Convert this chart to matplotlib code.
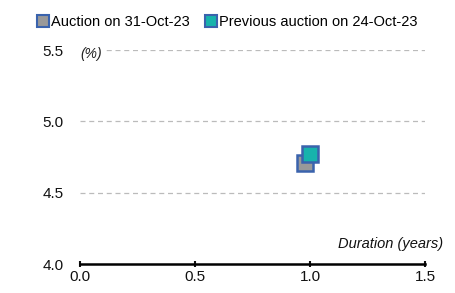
import matplotlib
matplotlib.use("Agg")
import matplotlib.pyplot as plt
from matplotlib.lines import Line2D
import matplotlib.font_manager as fm

names = {f.name for f in fm.fontManager.ttflist}
fam = "Liberation Sans Narrow" if "Liberation Sans Narrow" in names else "Liberation Sans"
plt.rcParams['font.family'] = [fam, 'DejaVu Sans']

series = ["Auction on 31-Oct-23", "Previous auction on 24-Oct-23"]
duration = [0.98, 1.0]
yields = [4.71, 4.77]
face_colors = ["#999999", "#17b3ac"]
edge_color = "#3a63ad"

xticks = [0.0, 0.5, 1.0, 1.5]
yticks = [4.0, 4.5, 5.0, 5.5]

fig = plt.figure(figsize=(4.55, 2.93), dpi=100)
ax = fig.add_axes([80/455, 1-264/293, 345/455, 214/293])

for x, y, fc, lab in zip(duration, yields, face_colors, series):
    ax.plot([x], [y], marker='s', markersize=11, markerfacecolor=fc,
            markeredgecolor=edge_color, markeredgewidth=1.8, linestyle='none',
            label=lab, clip_on=False)

ax.set_xlim(0, 1.5)
ax.set_ylim(4.0, 5.5)
ax.set_xticks(xticks)
ax.set_yticks(yticks)
ax.set_xticklabels([f"{v:.1f}" for v in xticks], fontsize=11)
ax.set_yticklabels([f"{v:.1f}" for v in yticks], fontsize=11)
for y in yticks[1:]:
    ax.axhline(y, color="#bbbbbb", linestyle=(0, (4, 3)), linewidth=0.9, zorder=0)

for s in ['top', 'right', 'left']:
    ax.spines[s].set_visible(False)
ax.spines['bottom'].set_linewidth(1.8)
ax.tick_params(axis='y', length=0, pad=12, colors='#111111')
ax.tick_params(axis='x', direction='inout', length=4, width=1.5, pad=2, colors='#111111')

ax.text(0.0, 5.475, "(%)", fontsize=10, style='italic', va='center', ha='left',
        color='#222222', zorder=5,
        bbox=dict(facecolor='white', edgecolor='none', pad=3))
fig.text(443/455, 1-244/293, "Duration (years)", fontsize=10.5, style='italic',
         ha='right', va='center', color='#111111')

handles = [Line2D([], [], marker='s', markersize=8, markerfacecolor=fc,
                  markeredgecolor=edge_color, markeredgewidth=1.5, linestyle='none')
           for fc in face_colors]
fig.legend(handles, series, loc='center left', bbox_to_anchor=(36/455, 1-22/293),
           ncol=2, frameon=False, fontsize=10.5, handletextpad=0.0,
           columnspacing=1.0, handlelength=1.0, borderaxespad=0, borderpad=0)

fig.savefig("out.png", dpi=100)
